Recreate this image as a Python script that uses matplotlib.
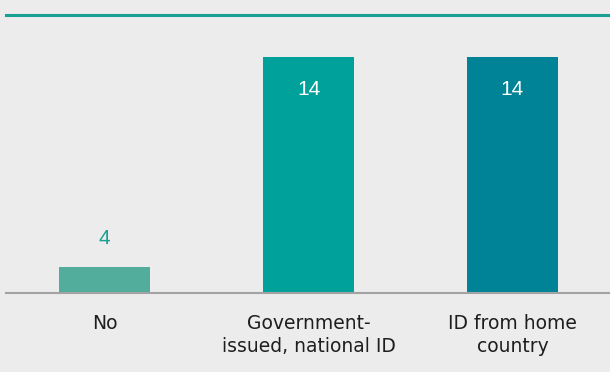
import matplotlib
matplotlib.use("Agg")
import matplotlib.pyplot as plt

categories = ["No", "Government-\nissued, national ID", "ID from home\ncountry"]
values = [4, 14, 14]
bar_colors = ["#52ad9c", "#00a19a", "#008396"]

BG = "#ececec"
ACCENT = "#17a093"

fig = plt.figure(figsize=(6.1, 3.72), dpi=100, facecolor=BG)
ax = fig.add_axes([6 / 610, 79 / 372, 604 / 610, 278 / 372], facecolor=BG)

x = list(range(len(categories)))
bars = ax.bar(x, values, width=0.446, color=bar_colors, zorder=2)

ax.set_xlim(-0.483, 2.478)
ax.set_ylim(2.74, 16)

for spine in ["left", "right"]:
    ax.spines[spine].set_visible(False)
ax.spines["top"].set_color(ACCENT)
ax.spines["top"].set_linewidth(2.2)
ax.spines["bottom"].set_color("#a3a3a3")
ax.spines["bottom"].set_linewidth(1.5)
ax.spines["bottom"].set_zorder(3)

ax.set_yticks([])
ax.set_xticks(x)
ax.set_xticklabels(categories, fontsize=13.5, color="#1e1e1e",
                   family="DejaVu Sans", linespacing=1.3)
ax.tick_params(axis="x", length=0, pad=15)

for rect, v in zip(bars, values):
    cx = rect.get_x() + rect.get_width() / 2
    if v >= 10:
        ax.annotate(str(v), (cx, v), xytext=(0, -27.4), textcoords="offset points",
                    ha="center", va="baseline", fontsize=15, color="white",
                    family="Liberation Sans")
    else:
        ax.annotate(str(v), (cx, v), xytext=(0, 16.6), textcoords="offset points",
                    ha="center", va="baseline", fontsize=15, color=ACCENT,
                    family="Liberation Sans")

fig.savefig("out.png", dpi=100, facecolor=BG)
